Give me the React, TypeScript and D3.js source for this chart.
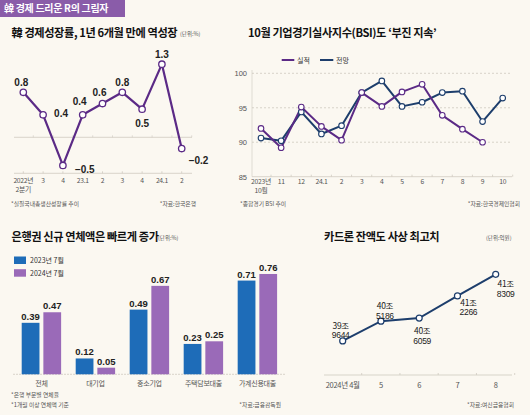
import React from "react";
import * as d3 from "d3";

// ---------- data ----------
const gdpQuarters = ["2022년\n2분기", "3", "4", "23.1", "2", "3", "4", "24.1", "2"];
const gdpGrowth = [0.8, 0.4, -0.5, 0.4, 0.6, 0.8, 0.5, 1.3, -0.2];

const bsiMonths = ["2023년\n10월", "11", "12", "24.1", "2", "3", "4", "5", "6", "7", "8", "9", "10"];
const bsiActual = [92.0, 89.2, 95.1, 92.3, 90.3, 97.2, 95.2, 97.3, 98.4, 93.9, 91.9, 90.0];
const bsiOutlook = [90.6, 90.2, 94.4, 91.2, 92.4, 97.2, 98.9, 95.2, 95.8, 97.2, 97.4, 93.0, 96.4];
const bsiTicks = [85, 90, 95, 100];

const loanCategories = ["전체", "대기업", "중소기업", "주택담보대출", "가계신용대출"];
const loanSeries = ["2023년 7월", "2024년 7월"];
const loan2023 = [0.39, 0.12, 0.49, 0.23, 0.71];
const loan2024 = [0.47, 0.05, 0.67, 0.25, 0.76];

const cardMonths = ["2024년 4월", "5", "6", "7", "8"];
const cardBalance = [39.9644, 40.5186, 40.6059, 41.2266, 41.8309]; // 조원

// ---------- styles ----------
const BG = "#fbf8f1";
const PURPLE = "#5b2a86";
const NAVY = "#1d3e6c";
const BAR_BLUE = "#1e6cb8";
const BAR_PURPLE = "#9a6ab8";
const HEADER = "#8a5ca9";
const KFONT = "'Noto Sans CJK KR', 'Noto Sans', sans-serif";
const NFONT = "'Liberation Sans', Arial, sans-serif";
const GRAY = "#555";
const LIGHT = "#cfcac0";

// label placement offsets (dx, dy) for GDP labels
const gdpLabelOff: [number, number][] = [
  [-2, -10], [11, -1], [12, 4], [-3, -13], [-3, -11], [0, -10], [0, 14], [0, -10], [7, 12],
];
const cardLabelOff: [number, number][] = [
  [-2, -19], [4, -19], [3, 9], [11, 3], [10, 6],
];

function MultiLabel({ x, y, text, size, lh }: { x: number; y: number; text: string; size: number; lh: number }) {
  return (
    <g>
      {text.split("\n").map((s, k) => (
        <text key={k} x={x} y={y + k * lh} textAnchor="middle" fontFamily={KFONT} fontSize={size} fill={GRAY} letterSpacing={-0.3}>
          {s}
        </text>
      ))}
    </g>
  );
}

function Gdp() {
  const x = d3.scalePoint<number>().domain(d3.range(gdpQuarters.length)).range([23.3, 181.7]);
  const y = d3.scaleLinear().domain([0, 1]).range([137.3, 81.05]);
  const line = d3.line<number>().x((_, i) => x(i)!).y((d) => y(d));
  const axisY = 173.3;
  return (
    <g>
      <text x={11.5} y={37} fontFamily={KFONT} fontWeight={700} fontSize={11.2} fill="#111" letterSpacing={-0.4}>
        韓 경제성장률, 1년 6개월 만에 역성장
      </text>
      <text x={180} y={36} fontFamily={KFONT} fontSize={5.5} fill={GRAY}>(단위:%)</text>
      <line x1={14} x2={192} y1={y(0)} y2={y(0)} stroke={LIGHT} strokeWidth={0.8} />
      <line x1={14} x2={192} y1={axisY} y2={axisY} stroke={LIGHT} strokeWidth={0.8} />
      {gdpQuarters.map((_, i) => (
        <g key={i}>
          <line x1={x(i)!} x2={x(i)!} y1={axisY - 2} y2={axisY} stroke={LIGHT} strokeWidth={0.8} />
          <line x1={x(i)! + 10} x2={x(i)! + 10} y1={y(0) - 2} y2={y(0)} stroke={LIGHT} strokeWidth={0.6} />
        </g>
      ))}
      {gdpQuarters.map((q, i) => (
        <MultiLabel key={i} x={x(i)!} y={182.5} text={q} size={6.8} lh={9.5} />
      ))}
      <path d={line(gdpGrowth)!} fill="none" stroke={PURPLE} strokeWidth={2.2} strokeLinejoin="round" />
      {gdpGrowth.map((v, i) => (
        <circle key={i} cx={x(i)} cy={y(v)} r={3.2} fill="#fff" stroke={PURPLE} strokeWidth={1.3} />
      ))}
      {gdpGrowth.map((v, i) => (
        <text key={i} x={x(i)! + gdpLabelOff[i][0]} y={y(v) + gdpLabelOff[i][1] + 3.5} textAnchor={gdpLabelOff[i][0] > 6 ? "start" : "middle"}
          fontFamily={NFONT} fontWeight={700} fontSize={10} fill="#222">
          {v < 0 ? "−" + Math.abs(v) : String(v)}
        </text>
      ))}
      <text x={11} y={206} fontFamily={KFONT} fontSize={5.8} fill={GRAY}>*실질국내총생산성장률 추이</text>
      <text x={196} y={206} textAnchor="end" fontFamily={KFONT} fontSize={5.8} fill={GRAY}>*자료:한국은행</text>
    </g>
  );
}

function Bsi() {
  const x = d3.scalePoint<number>().domain(d3.range(bsiMonths.length)).range([261, 502.7]);
  const y = d3.scaleLinear().domain([85, 100]).range([176.7, 73.3]);
  const line = d3.line<number>().x((_, i) => x(i)!).y((d) => y(d));
  return (
    <g>
      <text x={248} y={37} fontFamily={KFONT} fontWeight={700} fontSize={11.2} fill="#111" letterSpacing={-0.4}>
        10월 기업경기실사지수(BSI)도 ‘부진 지속’
      </text>
      {/* legend */}
      <line x1={281.7} x2={294.3} y1={60} y2={60} stroke={PURPLE} strokeWidth={2} />
      <text x={297} y={62.5} fontFamily={KFONT} fontSize={7} fill="#333">실적</text>
      <line x1={320} x2={333.3} y1={60} y2={60} stroke={NAVY} strokeWidth={2} />
      <text x={336} y={62.5} fontFamily={KFONT} fontSize={7} fill="#333">전망</text>
      <line x1={252} x2={252} y1={70} y2={y(85)} stroke={LIGHT} strokeWidth={0.6} />
      {bsiTicks.map((t) => (
        <g key={t}>
          {t !== 85 && (
            <line x1={252} x2={512} y1={y(t)} y2={y(t)} stroke="#c9c3b8" strokeWidth={0.7} strokeDasharray="2,2" />
          )}
          <text x={247} y={y(t) + 2.8} textAnchor="end" fontFamily={NFONT} fontSize={7.5} fill={GRAY}>{t}</text>
        </g>
      ))}
      <line x1={252} x2={512} y1={y(85)} y2={y(85)} stroke={LIGHT} strokeWidth={0.8} />
      {bsiMonths.map((_, i) => (
        <line key={i} x1={x(i)! + 10} x2={x(i)! + 10} y1={y(85) - 2} y2={y(85)} stroke={LIGHT} strokeWidth={0.8} />
      ))}
      {bsiMonths.map((m, i) => (
        <MultiLabel key={i} x={x(i)!} y={183.5} text={m} size={6.8} lh={9.5} />
      ))}
      <path d={line(bsiOutlook)!} fill="none" stroke={NAVY} strokeWidth={2} strokeLinejoin="round" />
      <path d={line(bsiActual)!} fill="none" stroke={PURPLE} strokeWidth={2} strokeLinejoin="round" />
      {bsiOutlook.map((v, i) => (
        <circle key={"o" + i} cx={x(i)} cy={y(v)} r={2.8} fill="#fff" stroke={NAVY} strokeWidth={1.1} />
      ))}
      {bsiActual.map((v, i) => (
        <circle key={"a" + i} cx={x(i)} cy={y(v)} r={2.8} fill="#fff" stroke={PURPLE} strokeWidth={1.1} />
      ))}
      <text x={240} y={206} fontFamily={KFONT} fontSize={5.8} fill={GRAY}>*종합경기 BSI 추이</text>
      <text x={520} y={206} textAnchor="end" fontFamily={KFONT} fontSize={5.8} fill={GRAY}>*자료:한국경제인협회</text>
    </g>
  );
}

function Loans() {
  const x0 = d3.scaleBand<string>().domain(loanCategories).range([21.7, 277.1]).paddingInner(0.27).paddingOuter(0);
  const x1 = d3.scaleBand<string>().domain(loanSeries).range([0, x0.bandwidth()]).paddingInner(0.18);
  const y = d3.scaleLinear().domain([0, 1]).range([374.3, 242.3]);
  const series = [loan2023, loan2024];
  const colors = [BAR_BLUE, BAR_PURPLE];
  return (
    <g>
      <text x={11.5} y={241} fontFamily={KFONT} fontWeight={700} fontSize={11.2} fill="#111" letterSpacing={-0.4}>
        은행권 신규 연체액은 빠르게 증가
      </text>
      <text x={158} y={240} fontFamily={KFONT} fontSize={5.5} fill={GRAY}>(단위:%)</text>
      {loanSeries.map((s, k) => (
        <g key={s}>
          <rect x={14} y={256.5 + k * 12.7} width={12} height={7.5} fill={colors[k]} />
          <text x={30} y={263 + k * 12.7} fontFamily={KFONT} fontSize={7} fill="#333">{s}</text>
        </g>
      ))}
      <line x1={13} x2={285} y1={y(0)} y2={y(0)} stroke={LIGHT} strokeWidth={0.8} strokeDasharray="2,1" />
      {loanCategories.map((c, ci) => (
        <g key={c}>
          {series.map((arr, k) => {
            const bx = x0(c)! + x1(loanSeries[k])!;
            return (
              <g key={k}>
                <rect x={bx} y={y(arr[ci])} width={x1.bandwidth()} height={y(0) - y(arr[ci])} fill={colors[k]} />
                <text x={bx + x1.bandwidth() / 2} y={y(arr[ci]) - 3} textAnchor="middle" fontFamily={NFONT}
                  fontWeight={700} fontSize={9.5} fill="#222">{arr[ci].toFixed(2)}</text>
              </g>
            );
          })}
          <text x={x0(c)! + x0.bandwidth() / 2} y={385.5} textAnchor="middle" fontFamily={KFONT} fontSize={7} fill={GRAY} letterSpacing={-0.3}>{c}</text>
        </g>
      ))}
      <text x={11} y={397} fontFamily={KFONT} fontSize={5.8} fill={GRAY}>*은행 부문별 연체율</text>
      <text x={11} y={406.5} fontFamily={KFONT} fontSize={5.8} fill={GRAY}>*1개월 이상 연체액 기준</text>
      <text x={281} y={406.5} textAnchor="end" fontFamily={KFONT} fontSize={5.8} fill={GRAY}>*자료:금융감독원</text>
    </g>
  );
}

function Card() {
  const x = d3.scalePoint<number>().domain(d3.range(cardMonths.length)).range([342.7, 495.7]);
  const y = d3.scaleLinear().domain([39, 42]).range([375.4, 268.3]);
  const line = d3.line<number>().x((_, i) => x(i)!).y((d) => y(d));
  const fmt = (v: number) => {
    const jo = Math.floor(v);
    const rest = Math.round((v - jo) * 10000);
    return [jo + "조", String(rest)];
  };
  return (
    <g>
      <text x={324} y={241} fontFamily={KFONT} fontWeight={700} fontSize={11.2} fill="#111" letterSpacing={-0.4}>
        카드론 잔액도 사상 최고치
      </text>
      <text x={486} y={240} fontFamily={KFONT} fontSize={5.5} fill={GRAY}>(단위:억원)</text>
      <line x1={324} x2={512} y1={375} y2={375} stroke={LIGHT} strokeWidth={0.8} />
      {cardMonths.map((_, i) => (
        <line key={i} x1={x(i)! + 19} x2={x(i)! + 19} y1={373} y2={375} stroke={LIGHT} strokeWidth={0.8} />
      ))}
      {cardMonths.map((m, i) => (
        <text key={i} x={x(i)} y={387.5} textAnchor="middle" fontFamily={KFONT} fontSize={7.5} fill={GRAY} letterSpacing={-0.3}>{m}</text>
      ))}
      <path d={line(cardBalance)!} fill="none" stroke={NAVY} strokeWidth={2} />
      {cardBalance.map((v, i) => (
        <circle key={i} cx={x(i)} cy={y(v)} r={3} fill="#fff" stroke={NAVY} strokeWidth={1.2} />
      ))}
      {cardBalance.map((v, i) => {
        const [a, b] = fmt(v);
        const lx = x(i)! + cardLabelOff[i][0];
        const ly = y(v) + cardLabelOff[i][1];
        return (
          <g key={i}>
            <text x={lx} y={ly + 7} textAnchor="middle" fontFamily={KFONT} fontSize={8.5} fill="#222" letterSpacing={-0.3}>{a}</text>
            <text x={lx} y={ly + 16.5} textAnchor="middle" fontFamily={NFONT} fontSize={8.5} fill="#222" letterSpacing={-0.3}>{b}</text>
          </g>
        );
      })}
      <text x={514} y={406.5} textAnchor="end" fontFamily={KFONT} fontSize={5.8} fill={GRAY}>*자료:여신금융협회</text>
    </g>
  );
}

export default function App() {
  return (
    <svg width={530} height={415} viewBox="0 0 530 415" style={{ position: "absolute", left: 0, top: 0, display: "block" }}>
      <rect width={530} height={415} fill={BG} />
      <rect x={0} y={0} width={125} height={17} fill={HEADER} />
      <text x={4} y={12.3} fontFamily={KFONT} fontWeight={700} fontSize={10} fill="#fff" letterSpacing={-0.3}>韓 경제 드리운 R의 그림자</text>
      <Gdp />
      <Bsi />
      <Loans />
      <Card />
    </svg>
  );
}
